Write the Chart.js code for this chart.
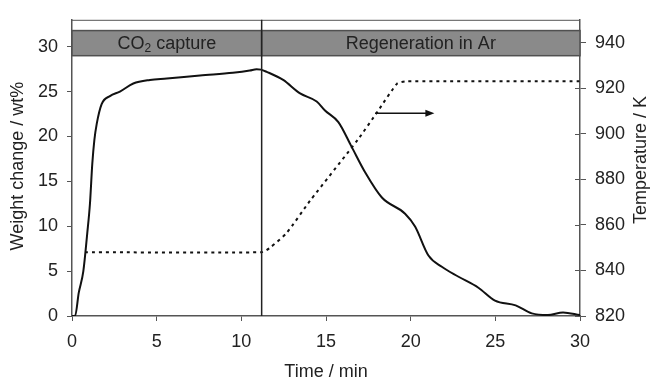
<!DOCTYPE html>
<html>
<head>
<meta charset="utf-8">
<script src="https://cdn.jsdelivr.net/npm/chart.js@4.4.0/dist/chart.umd.min.js"></script>
<style>
  html, body { margin: 0; padding: 0; background: white; }
  #wrap { width: 650px; height: 381px; }
</style>
</head>
<body>
<div id="wrap"><canvas id="myChart" width="650" height="381"></canvas></div>
<script>
// Weight change curve (min, wt%)
const weightTime = [0, 0.18, 0.4, 0.67, 0.9, 1.06, 1.2, 1.32, 1.46, 1.75, 2.24, 2.83, 3.62, 4.6, 5.6, 7.56, 9.5, 10.5, 10.9, 11.16, 11.5, 12.47, 13.47, 14.45, 14.94, 15.73, 16.5, 17.3, 18.3, 19.67, 20.26, 21.05, 21.84, 22.8, 24.0, 24.98, 26.2, 27.15, 28.1, 29.0, 30];
const weightValues = [0, 0, 2.6, 5.0, 9.2, 12.5, 17.0, 19.6, 21.4, 23.6, 24.5, 25.0, 25.9, 26.3, 26.45, 26.8, 27.1, 27.35, 27.5, 27.45, 27.2, 26.3, 24.8, 23.9, 22.9, 21.6, 18.9, 16.05, 13.2, 11.4, 9.97, 6.74, 5.48, 4.4, 3.15, 1.72, 1.18, 0.29, 0.1, 0.4, 0.1];

// Temperature profile (min, K)
const tempTime = [0.77, 11.2, 11.7, 12.68, 14.06, 16.9, 18.07, 19.2, 19.7, 30];
const tempValues = [848, 848, 850, 856.5, 870.6, 897.6, 910, 922, 923, 923];

// Stage labels
const stageNames = ["CO2 capture", "Regeneration in Ar"];
const stageStart = [0, 11.2];
const stageEnd = [11.2, 30];
const bandLow = 29;
const bandHigh = 31.8;

// Arrow pointing to temperature axis
const arrowTime = [17.9, 21.4];
const arrowTemp = 909;

const xTicks = [0, 5, 10, 15, 20, 25, 30];

const fontFamily = "'Liberation Sans', Arial, sans-serif";
const textColor = "#222";

const weightData = weightTime.map((t, i) => ({ x: t, y: weightValues[i] }));
const tempData = tempTime.map((t, i) => ({ x: t, y: tempValues[i] }));

const decorPlugin = {
  id: "decorPlugin",
  afterDatasetsDraw(chart) {
    const ctx = chart.ctx;
    const x = chart.scales.x;
    const y = chart.scales.y;
    const y2 = chart.scales.y2;
    const area = chart.chartArea;
    ctx.save();

    // top frame line
    ctx.strokeStyle = "#555";
    ctx.lineWidth = 1;
    ctx.beginPath();
    ctx.moveTo(area.left, area.top + 0.5);
    ctx.lineTo(area.right, area.top + 0.5);
    ctx.stroke();

    // right axis ticks cross the axis line
    ctx.lineWidth = 1;
    y2.ticks.forEach((t) => {
      const py = Math.round(y2.getPixelForValue(t.value)) + 0.5;
      ctx.beginPath();
      ctx.moveTo(area.right - 5, py);
      ctx.lineTo(area.right, py);
      ctx.stroke();
    });

    // stage bands
    for (let i = 0; i < stageNames.length; i++) {
      const x0 = x.getPixelForValue(stageStart[i]);
      const x1 = x.getPixelForValue(stageEnd[i]);
      const yt = y.getPixelForValue(bandHigh);
      const yb = y.getPixelForValue(bandLow);
      ctx.fillStyle = "#8a8a8a";
      ctx.fillRect(x0, yt, x1 - x0, yb - yt);
      ctx.strokeStyle = "#505050";
      ctx.lineWidth = 1.5;
      ctx.strokeRect(x0, yt, x1 - x0, yb - yt);

      const cx = (x0 + x1) / 2;
      const cy = (yt + yb) / 2 + 1;
      ctx.fillStyle = textColor;
      ctx.textBaseline = "middle";
      if (stageNames[i] === "CO2 capture") {
        const a = "CO";
        const b = " capture";
        ctx.font = "18px " + fontFamily;
        const wa = ctx.measureText(a).width;
        const wb = ctx.measureText(b).width;
        ctx.font = "12px " + fontFamily;
        const ws = ctx.measureText("2").width;
        let sx = cx - (wa + ws + wb) / 2;
        ctx.textAlign = "left";
        ctx.font = "18px " + fontFamily;
        ctx.fillText(a, sx, cy);
        ctx.font = "12px " + fontFamily;
        ctx.fillText("2", sx + wa, cy + 5);
        ctx.font = "18px " + fontFamily;
        ctx.fillText(b, sx + wa + ws, cy);
      } else {
        ctx.font = "18px " + fontFamily;
        ctx.textAlign = "center";
        ctx.fillText(stageNames[i], cx, cy);
      }
    }

    // vertical divider
    const xd = x.getPixelForValue(stageEnd[0]);
    ctx.strokeStyle = "#222";
    ctx.lineWidth = 1.5;
    ctx.beginPath();
    ctx.moveTo(xd, area.top);
    ctx.lineTo(xd, area.bottom);
    ctx.stroke();

    // arrow
    const ax0 = x.getPixelForValue(arrowTime[0]);
    const ax1 = x.getPixelForValue(arrowTime[1]);
    const ay = y2.getPixelForValue(arrowTemp);
    ctx.strokeStyle = "#111";
    ctx.lineWidth = 1.5;
    ctx.beginPath();
    ctx.moveTo(ax0, ay);
    ctx.lineTo(ax1 - 6, ay);
    ctx.stroke();
    ctx.fillStyle = "#111";
    ctx.beginPath();
    ctx.moveTo(ax1, ay);
    ctx.lineTo(ax1 - 9, ay - 3.5);
    ctx.lineTo(ax1 - 9, ay + 3.5);
    ctx.closePath();
    ctx.fill();

    // axis titles
    ctx.fillStyle = textColor;
    ctx.font = "18px " + fontFamily;
    ctx.textAlign = "center";
    ctx.textBaseline = "middle";
    ctx.save();
    ctx.translate(18, 166);
    ctx.rotate(-Math.PI / 2);
    ctx.fillText("Weight change / wt%", 0, 0);
    ctx.restore();
    ctx.save();
    ctx.translate(641, 160);
    ctx.rotate(-Math.PI / 2);
    ctx.fillText("Temperature / K", 0, 0);
    ctx.restore();
    ctx.fillText("Time / min", (area.left + area.right) / 2, 372);

    ctx.restore();
  },
};

const tickFont = { size: 18, family: fontFamily };

const config = {
  type: "line",
  data: {
    datasets: [
      {
        label: "Weight change",
        data: weightData,
        yAxisID: "y",
        borderColor: "#111",
        borderWidth: 2,
        pointRadius: 0,
        cubicInterpolationMode: "monotone",
        fill: false,
      },
      {
        label: "Temperature",
        data: tempData,
        yAxisID: "y2",
        borderColor: "#111",
        borderWidth: 2,
        borderDash: [3, 4],
        pointRadius: 0,
        tension: 0.2,
        fill: false,
      },
    ],
  },
  options: {
    responsive: false,
    animation: false,
    layout: { padding: { top: 9, left: 0, right: 0, bottom: 0 } },
    plugins: { legend: { display: false }, tooltip: { enabled: false } },
    scales: {
      x: {
        type: "linear",
        min: 0,
        max: 30,
        afterBuildTicks: (scale) => {
          scale.ticks = xTicks.map((v) => ({ value: v }));
        },
        afterFit: (scale) => {
          scale.height = 65;
        },
        ticks: { font: tickFont, color: textColor, padding: 10 },
        grid: { drawOnChartArea: false, drawTicks: true, tickLength: 5, color: "#555" },
        border: { display: true, color: "#555", width: 1.5 },
      },
      y: {
        position: "left",
        min: 0,
        max: 33,
        ticks: { stepSize: 5, font: tickFont, color: textColor, padding: 9 },
        afterBuildTicks: (scale) => {
          scale.ticks = scale.ticks.filter((t) => t.value <= 30);
        },
        afterFit: (scale) => {
          scale.width = 72;
        },
        grid: { drawOnChartArea: false, drawTicks: true, tickLength: 5, color: "#555" },
        border: { display: true, color: "#555", width: 1.5 },
      },
      y2: {
        position: "right",
        min: 820,
        max: 950,
        ticks: { stepSize: 20, font: tickFont, color: textColor, padding: 9 },
        afterBuildTicks: (scale) => {
          scale.ticks = scale.ticks.filter((t) => t.value <= 940);
        },
        afterFit: (scale) => {
          scale.width = 70;
        },
        grid: { drawOnChartArea: false, drawTicks: true, tickLength: 6, color: "#555" },
        border: { display: true, color: "#555", width: 1.5 },
      },
    },
  },
  plugins: [decorPlugin],
};

const myChart = new Chart(document.getElementById("myChart").getContext("2d"), config);
</script>
</body>
</html>
